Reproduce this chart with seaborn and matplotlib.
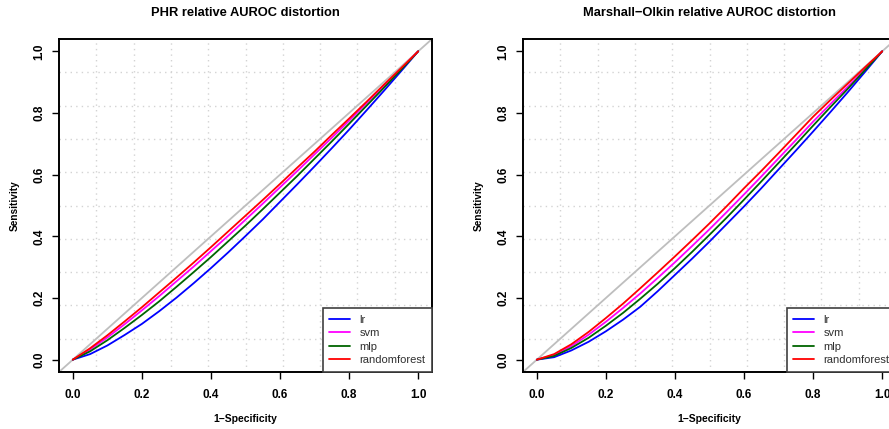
import numpy as np
import pandas as pd
import matplotlib
matplotlib.use("Agg")
import matplotlib.pyplot as plt
import seaborn as sns
from matplotlib.lines import Line2D

# ---------------- data ----------------
fpr = [0.0, 0.05, 0.10, 0.15, 0.20, 0.25, 0.30, 0.35, 0.40, 0.45, 0.50,
       0.55, 0.60, 0.65, 0.70, 0.75, 0.80, 0.85, 0.90, 0.95, 1.0]

models = ["lr", "svm", "mlp", "randomforest"]

phr_lr = [0.0, 0.018, 0.046, 0.080, 0.116, 0.157, 0.201, 0.248, 0.297, 0.348, 0.401,
          0.455, 0.512, 0.569, 0.627, 0.686, 0.746, 0.808, 0.871, 0.935, 1.0]
phr_svm = [0.0, 0.033, 0.072, 0.115, 0.160, 0.206, 0.254, 0.302, 0.352, 0.402, 0.454,
           0.506, 0.559, 0.612, 0.666, 0.720, 0.775, 0.831, 0.887, 0.943, 1.0]
phr_mlp = [0.0, 0.027, 0.063, 0.103, 0.145, 0.189, 0.236, 0.284, 0.333, 0.384, 0.435,
           0.488, 0.542, 0.596, 0.652, 0.708, 0.765, 0.823, 0.881, 0.940, 1.0]
phr_rf = [0.0, 0.037, 0.079, 0.124, 0.170, 0.218, 0.266, 0.315, 0.365, 0.416, 0.467,
          0.518, 0.570, 0.623, 0.675, 0.729, 0.782, 0.836, 0.891, 0.945, 1.0]

mo_lr = [0.0, 0.008, 0.030, 0.058, 0.092, 0.130, 0.172, 0.222, 0.275, 0.328, 0.383,
         0.440, 0.497, 0.556, 0.617, 0.678, 0.740, 0.803, 0.867, 0.933, 1.0]
mo_svm = [0.0, 0.015, 0.044, 0.081, 0.123, 0.168, 0.215, 0.265, 0.316, 0.369, 0.423,
          0.479, 0.536, 0.594, 0.653, 0.712, 0.772, 0.829, 0.885, 0.942, 1.0]
mo_mlp = [0.0, 0.012, 0.038, 0.071, 0.110, 0.152, 0.198, 0.246, 0.297, 0.350, 0.405,
          0.461, 0.519, 0.578, 0.638, 0.698, 0.759, 0.819, 0.878, 0.939, 1.0]
mo_rf = [0.0, 0.018, 0.050, 0.090, 0.135, 0.182, 0.232, 0.283, 0.335, 0.388, 0.442,
         0.498, 0.556, 0.612, 0.670, 0.729, 0.788, 0.842, 0.895, 0.948, 1.0]

titles = ["PHR relative AUROC distortion", "Marshall\u2212Olkin relative AUROC distortion"]
ticks = [0.0, 0.2, 0.4, 0.6, 0.8, 1.0]
tick_labels = ["0.0", "0.2", "0.4", "0.6", "0.8", "1.0"]

colors = {"lr": "#0000FF", "svm": "#FF00FF", "mlp": "#006400", "randomforest": "#FF0000"}


def long_frame(series):
    rows = []
    for m, ys in zip(models, series):
        for x, y in zip(fpr, ys):
            rows.append({"fpr": x, "tpr": y, "model": m})
    return pd.DataFrame(rows)


panels = [long_frame([phr_lr, phr_svm, phr_mlp, phr_rf]),
          long_frame([mo_lr, mo_svm, mo_mlp, mo_rf])]

# ---------------- figure ----------------
sns.set_theme(style="white")
plt.rcParams["font.family"] = ["Liberation Sans", "DejaVu Sans"]

W, H = 889, 429
fig = plt.figure(figsize=(W / 100, H / 100), dpi=100)
fig.patch.set_facecolor("white")

axes_px = [(59, 39), (523, 39)]  # left, top in pixels
aw, ah = 373, 333

for (lx, ty), df, title in zip(axes_px, panels, titles):
    ax = fig.add_axes([lx / W, (H - ty - ah) / H, aw / W, ah / H])
    ax.set_facecolor("white")
    ax.set_xlim(-0.04, 1.04)
    ax.set_ylim(-0.04, 1.04)

    # R-style grid(10,10): 10 equal divisions of plotting region
    for k in range(1, 10):
        g = -0.04 + k * 0.108
        ax.axvline(g, color="#D3D3D3", lw=1.0, ls=(0, (1, 3)), zorder=0)
        ax.axhline(g, color="#D3D3D3", lw=1.0, ls=(0, (1, 3)), zorder=0)

    # diagonal reference
    ax.plot([-0.04, 1.04], [-0.04, 1.04], color="#BEBEBE", lw=1.3, zorder=1)

    sns.lineplot(data=df, x="fpr", y="tpr", hue="model", hue_order=models,
                 palette=colors, lw=1.3, ax=ax, legend=False, sort=False,
                 estimator=None, zorder=2)

    ax.set_xticks(ticks)
    ax.set_xticklabels(tick_labels)
    ax.set_yticks(ticks)
    ax.set_yticklabels(tick_labels, rotation=90, va="center")
    for lab in ax.get_xticklabels() + ax.get_yticklabels():
        lab.set_fontweight("bold")
        lab.set_fontsize(8.5)
    ax.tick_params(axis="both", direction="out", length=5, width=1.0,
                   color="black", labelcolor="black")
    ax.tick_params(axis="x", pad=7, bottom=True)
    ax.tick_params(axis="y", pad=5, left=True)

    for s in ax.spines.values():
        s.set_visible(True)
        s.set_color("black")
        s.set_linewidth(1.4)

    ax.set_xlabel("1\u2212Specificity", fontsize=7.5, fontweight="bold", color="black")
    ax.set_ylabel("Sensitivity", fontsize=7.3, fontweight="bold", color="black")
    ax.xaxis.set_label_coords(0.5, -0.127)
    ax.yaxis.set_label_coords(-0.106, 0.5)

    ax.text(0.5, (ty + ah - 13) / ah, title, transform=ax.transAxes,
            ha="center", va="center", fontsize=9.3, fontweight="bold", color="black")

    handles = [Line2D([0], [0], color=colors[m], lw=1.3) for m in models]
    leg = ax.legend(handles, models, loc="lower right", borderaxespad=0,
                    frameon=True, fancybox=False, fontsize=8.0, handlelength=1.9,
                    handletextpad=0.8, labelspacing=0.32, borderpad=0.6)
    leg.get_frame().set_edgecolor("#404040")
    leg.get_frame().set_linewidth(1.2)
    leg.get_frame().set_facecolor("white")
    leg.get_frame().set_alpha(1.0)
    for t in leg.get_texts():
        t.set_color("#303030")

fig.savefig("out.png", dpi=100, facecolor="white")
